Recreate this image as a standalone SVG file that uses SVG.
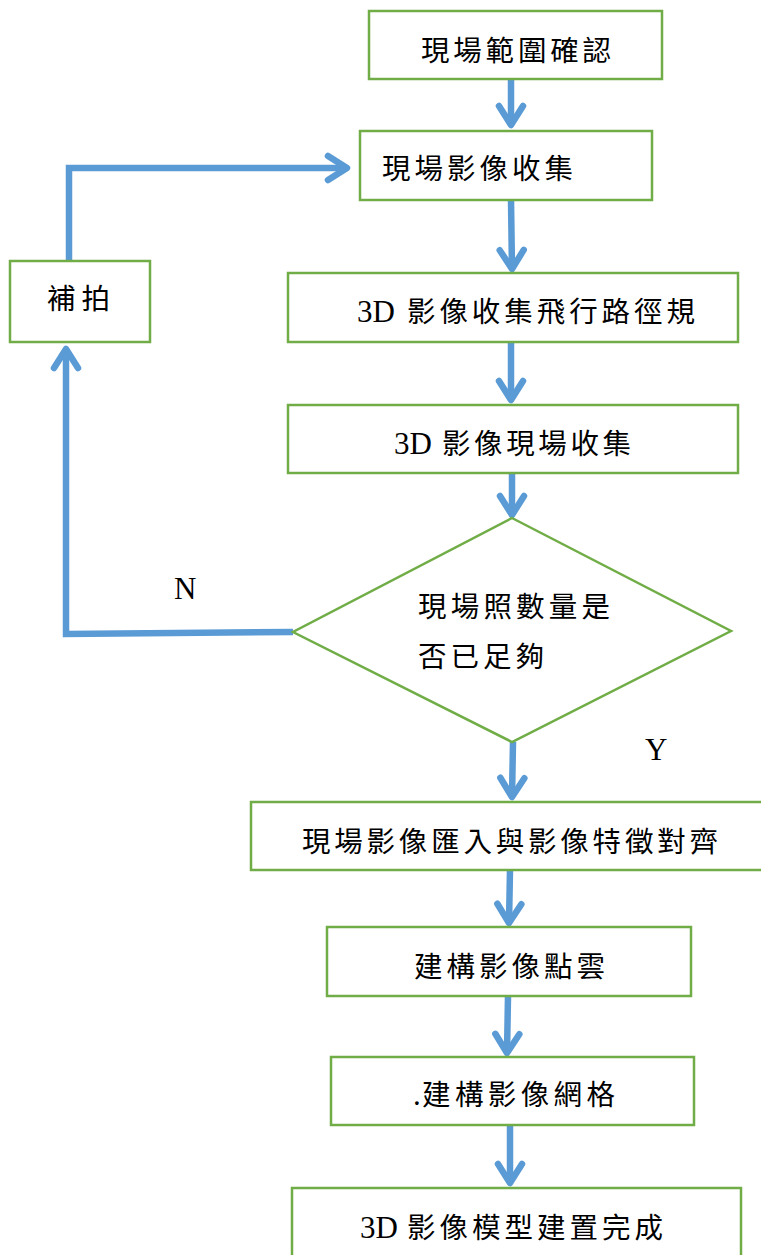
<svg xmlns="http://www.w3.org/2000/svg" width="761" height="1255" viewBox="0 0 761 1255">
<style>
.box{fill:#fff;stroke:#70ad47;stroke-width:2.5}
.cj{font-family:"Noto Sans CJK TC","Noto Sans CJK SC",sans-serif;font-size:28.5px;fill:#000}
.lt{font-family:"Liberation Serif",serif;font-size:31px;fill:#000}
.ln{fill:none;stroke:#5b9bd5;stroke-width:6.5;stroke-linejoin:miter}
</style>
<defs>
<marker id="ah" markerUnits="userSpaceOnUse" viewBox="-30 -20 40 40" refX="0" refY="0" markerWidth="40" markerHeight="40" orient="auto">
<path d="M-19,-12 L0,0 L-19,12" fill="none" stroke="#5b9bd5" stroke-width="6.5" stroke-linecap="round" stroke-linejoin="round"/>
</marker>
</defs>
<rect width="761" height="1255" fill="#fff"/>
<g id="connectors">
<path class="ln" d="M511,79 L511,125" marker-end="url(#ah)"/>
<path class="ln" d="M511,200 L512,269" marker-end="url(#ah)"/>
<path class="ln" d="M511,342 L511,400" marker-end="url(#ah)"/>
<path class="ln" d="M512,473 L512,515" marker-end="url(#ah)"/>
<path class="ln" d="M513,742 L512,797" marker-end="url(#ah)"/>
<path class="ln" d="M510,870 L509,923" marker-end="url(#ah)"/>
<path class="ln" d="M508,996 L507,1053" marker-end="url(#ah)"/>
<path class="ln" d="M510,1125 L510,1183" marker-end="url(#ah)"/>
<path class="ln" d="M293,632 L66,634 L66,349" marker-end="url(#ah)"/>
<path class="ln" d="M69,261 L69,168 L347,168" marker-end="url(#ah)"/>
</g>
<g id="n1"><rect class="box" x="369" y="11" width="293" height="68"/><text class="cj" x="421" y="61" textLength="190" lengthAdjust="spacing">現場範圍確認</text></g>
<g id="n2"><rect class="box" x="360" y="131" width="292" height="69"/><text class="cj" x="382" y="179" textLength="191" lengthAdjust="spacing">現場影像收集</text></g>
<g id="n3"><rect class="box" x="10" y="261" width="140" height="81"/><text class="cj" x="47" y="309" textLength="63" lengthAdjust="spacing">補拍</text></g>
<g id="n4"><rect class="box" x="288" y="273" width="450" height="69"/><text class="lt" x="357" y="322">3D</text><text class="cj" x="407" y="322" textLength="288" lengthAdjust="spacing">影像收集飛行路徑規</text></g>
<g id="n5"><rect class="box" x="288" y="405" width="450" height="68"/><text class="lt" x="394" y="454">3D</text><text class="cj" x="442" y="454" textLength="189" lengthAdjust="spacing">影像現場收集</text></g>
<g id="n6"><path class="box" d="M512,518 L731,631 L512,742 L293,632 Z"/><text class="cj" x="418" y="617" textLength="192" lengthAdjust="spacing">現場照數量是</text><text class="cj" x="418" y="667" textLength="126" lengthAdjust="spacing">否已足夠</text></g>
<text class="lt" x="174" y="599">N</text>
<text class="lt" x="645" y="760">Y</text>
<g id="n7"><rect class="box" x="251" y="802" width="515" height="68"/><text class="cj" x="302" y="852" textLength="416" lengthAdjust="spacing">現場影像匯入與影像特徵對齊</text></g>
<g id="n8"><rect class="box" x="327" y="927" width="364" height="69"/><text class="cj" x="414" y="977" textLength="191" lengthAdjust="spacing">建構影像點雲</text></g>
<g id="n9"><rect class="box" x="331" y="1057" width="363" height="68"/><text class="lt" x="413" y="1105">.</text><text class="cj" x="422" y="1105" textLength="193" lengthAdjust="spacing">建構影像網格</text></g>
<g id="n10"><rect class="box" x="292" y="1188" width="449" height="75"/><text class="lt" x="360" y="1238">3D</text><text class="cj" x="407" y="1238" textLength="256" lengthAdjust="spacing">影像模型建置完成</text></g>
</svg>
